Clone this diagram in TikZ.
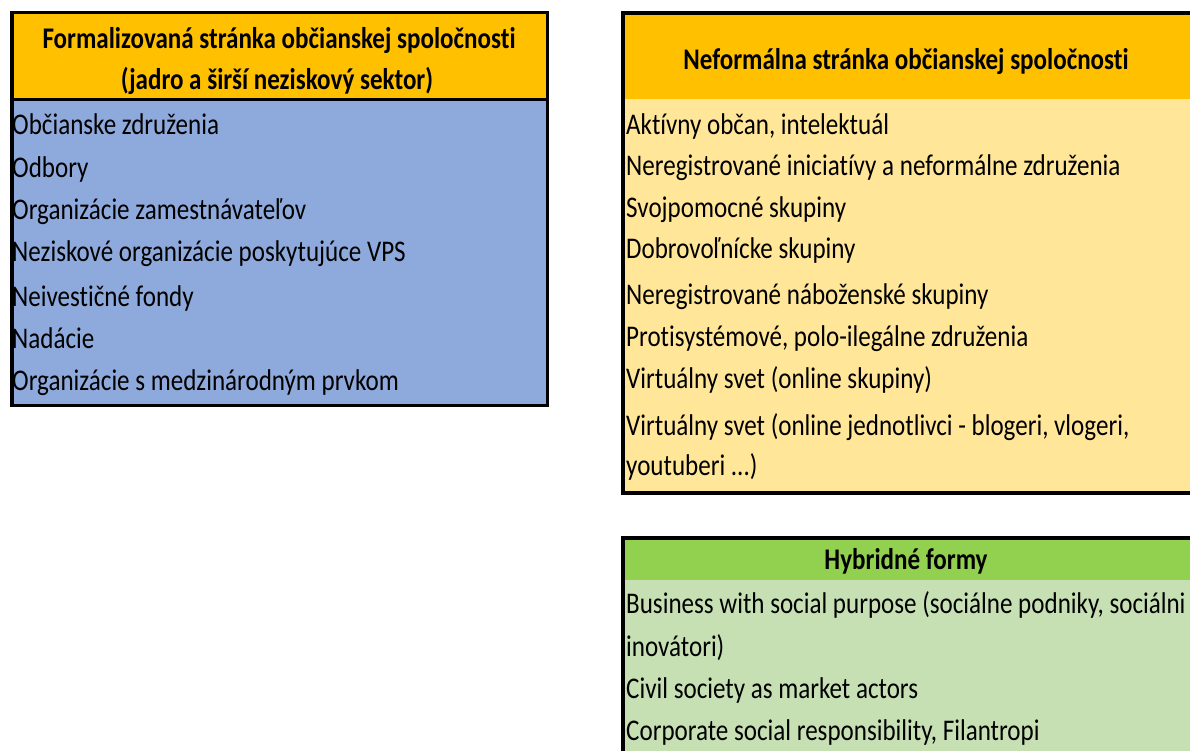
\documentclass[tikz,border=0pt]{standalone}
\usepackage{fontspec}
\setmainfont{Carlito}[FakeStretch=0.835,Ligatures=NoCommon]
\usepackage{tikz}

\definecolor{headorange}{HTML}{FFC000}
\definecolor{formblue}{HTML}{8EA9DB}
\definecolor{neflight}{HTML}{FFE699}
\definecolor{hybgreen}{HTML}{92D050}
\definecolor{hyblight}{HTML}{C6E0B4}

\tikzset{
  item/.style={anchor=west,inner sep=0pt,text height=0.7em,text depth=0.2em,yshift=-6pt},
  headtxt/.style={inner sep=0pt,font=\fontsize{30}{36}\selectfont\bfseries,text height=0.7em,text depth=0.2em,yshift=-6pt},
  frame/.style={line width=4pt,black}
}

\begin{document}
\begin{tikzpicture}[x=1pt,y=-1pt,font=\fontsize{30}{36}\selectfont]
\useasboundingbox (0,0) rectangle (1190,751);

% formalizovana strana
\fill[headorange] (10,11) rectangle (549,100);
\fill[formblue] (10,100) rectangle (549,407);
\draw[frame,line width=3.5pt] (11.75,12.75) rectangle (547.25,405.25);
\draw[frame,line width=3pt] (10,100) -- (549,100);
\node[headtxt] (formA) at (279,40) {Formalizovaná stránka občianskej spoločnosti};
\node[headtxt] (formB) at (277,81) {(jadro a širší neziskový sektor)};
\node[item] (f1) at (12,126) {Občianske združenia};
\node[item] (f2) at (12,169) {Odbory};
\node[item] (f3) at (12,211) {Organizácie zamestnávateľov};
\node[item] (f4) at (12,253) {Neziskové organizácie poskytujúce VPS};
\node[item] (f5) at (12,298) {Neivestičné fondy};
\node[item] (f6) at (12,340) {Nadácie};
\node[item] (f7) at (12,382) {Organizácie s medzinárodným prvkom};

% neformalna strana
\fill[headorange] (623,13.5) rectangle (1190,99);
\fill[neflight] (623,99) rectangle (1190,493);
\draw[frame] (1190,13.5) -- (623,13.5) -- (623,493) -- (1190,493);
\node[headtxt] (nefH) at (906,61) {Neformálna stránka občianskej spoločnosti};
\node[item] (n1) at (626,126) {Aktívny občan, intelektuál};
\node[item] (n2) at (626,167) {Neregistrované iniciatívy a neformálne združenia};
\node[item] (n3) at (626,209) {Svojpomocné skupiny};
\node[item] (n4) at (626,250) {Dobrovoľnícke skupiny};
\node[item] (n5) at (626,296) {Neregistrované náboženské skupiny};
\node[item] (n6) at (626,338) {Protisystémové, polo-ilegálne združenia};
\node[item] (n7) at (626,380) {Virtuálny svet (online skupiny)};
\node[item] (n8) at (626,427) {Virtuálny svet (online jednotlivci - blogeri, vlogeri,};
\node[item] (n9) at (626,467) {youtuberi ...)};

% hybridne formy
\fill[hybgreen] (623,538) rectangle (1190,580);
\fill[hyblight] (623,580) rectangle (1190,751);
\draw[frame] (1190,538) -- (623,538) -- (623,751);
\node[headtxt] (hybH) at (906,561) {Hybridné formy};
\node[item] (h1) at (626,605) {Business with social purpose (sociálne podniky, sociálni};
\node[item] (h2) at (626,648) {inovátori)};
\node[item] (h3) at (626,690) {Civil society as market actors};
\node[item] (h4) at (626,732) {Corporate social responsibility, Filantropi};

\end{tikzpicture}
\end{document}
